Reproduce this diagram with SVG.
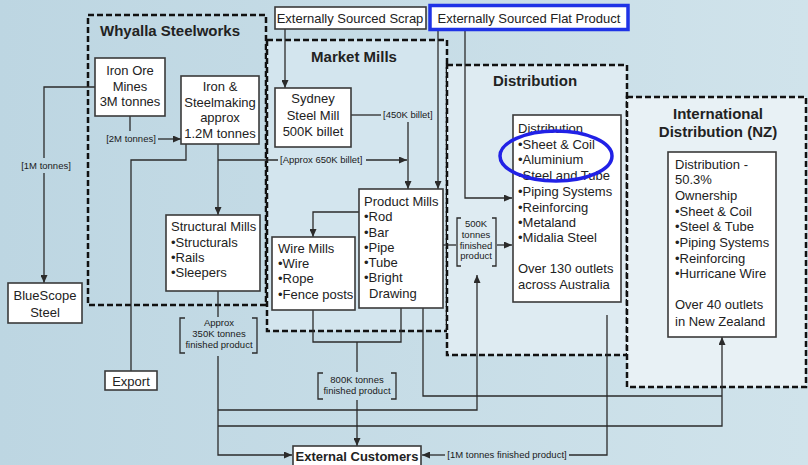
<svg xmlns="http://www.w3.org/2000/svg" width="808" height="465" viewBox="0 0 808 465">
<defs>
<linearGradient id="bg" x1="0" y1="0" x2="1" y2="0">
<stop offset="0" stop-color="#bdd6e2"/>
<stop offset="1" stop-color="#d0e3eb"/>
</linearGradient>
<marker id="ah" markerWidth="8" markerHeight="7" refX="8" refY="3.5" orient="auto" markerUnits="userSpaceOnUse">
<path d="M0,0 L8,3.5 L0,7 z" fill="#2b2b2b"/>
</marker>
<style>
.region{stroke:#111;stroke-width:2.5;stroke-dasharray:6 3}
.box{fill:#fff;stroke:#3a3a3a;stroke-width:1.6}
.t{font-family:"Liberation Sans",Arial,sans-serif;font-size:13px;fill:#222}
.c{text-anchor:middle}
.title{font-family:"Liberation Sans",Arial,sans-serif;font-size:15px;font-weight:bold;fill:#222}
.lbl{font-family:"Liberation Sans",Arial,sans-serif;font-size:9.5px;fill:#1a1a1a}
.ln{fill:none;stroke:#2b2b2b;stroke-width:1.3}
.arr{marker-end:url(#ah)}
</style>
</defs>
<rect width="808" height="465" fill="url(#bg)"/>

<g id="regions">
<rect id="whyalla" class="region" x="88" y="15" width="178" height="290" fill="none"/>
<rect id="market-mills" class="region" x="267" y="40" width="180" height="291" fill="#d3e5ee"/>
<rect id="distribution" class="region" x="447" y="65" width="180" height="290" fill="#deebf2"/>
<rect id="international" class="region" x="627" y="97" width="179" height="290" fill="#e8f1f5"/>
<text class="title" x="100" y="36">Whyalla Steelworks</text>
<text class="title c" x="354" y="62">Market Mills</text>
<text class="title c" x="535" y="86">Distribution</text>
<text class="title c" x="718" y="119">International</text>
<text class="title c" x="718" y="137">Distribution (NZ)</text>
</g>

<g id="connectors">
<path class="ln" d="M95,87 H44 V158"/>
<path class="ln arr" d="M44,173 V283"/>
<text class="lbl c" x="46" y="169">[1M tonnes]</text>
<path class="ln" d="M130,116 V131"/>
<text class="lbl c" x="131" y="142">[2M tonnes]</text>
<path class="ln arr" d="M158,139 H181"/>
<path class="ln" d="M186,144 V160 H131 V371"/>
<path class="ln arr" d="M218,144 V215"/>
<path class="ln" d="M218,160 H278"/>
<text class="lbl" x="280" y="163">[Approx 650K billet]</text>
<path class="ln arr" d="M366,160 H407" stroke="#333366"/>
<path class="ln arr" d="M285,29 V88"/>
<path class="ln" d="M351,115 H381"/>
<text class="lbl" x="383" y="118">[450K billet]</text>
<path class="ln arr" d="M408,122 V189"/>
<path class="ln arr" d="M438,30 V189"/>
<path class="ln arr" d="M465,30 V198 H512"/>
<path class="ln arr" d="M359,212 H313 V237"/>
<path class="ln" d="M443,245 H456"/>
<path class="ln" d="M461,218 H457 V266 H461 M492,218 H496 V266 H492"/>
<text class="lbl c" x="476" y="227" font-size="9">500K</text>
<text class="lbl c" x="476" y="238" font-size="9">tonnes</text>
<text class="lbl c" x="476" y="249" font-size="9">finished</text>
<text class="lbl c" x="476" y="259" font-size="9">product</text>
<path class="ln arr" d="M497,245 H512"/>
<path class="ln" d="M218,291 V317"/>
<path class="ln" d="M185,318 H180 V353 H185 M252,318 H257 V353 H252"/>
<text class="lbl c" x="219" y="326">Approx</text>
<text class="lbl c" x="219" y="337">350K tonnes</text>
<text class="lbl c" x="219" y="348">finished product</text>
<path class="ln arr" d="M218,356 V455 H292"/>
<path class="ln arr" d="M218,410 H477 V275"/>
<path class="ln arr" d="M218,426 H722 V337"/>
<path class="ln" d="M423,308 V396 H722"/>
<path class="ln" d="M313,310 V342 H401 V308"/>
<path class="ln" d="M357,342 V372"/>
<path class="ln" d="M323,373 H318 V399 H323 M391,373 H396 V399 H391"/>
<text class="lbl c" x="357" y="383">800K tonnes</text>
<text class="lbl c" x="357" y="394">finished product</text>
<path class="ln arr" d="M357,400 V446"/>
<path class="ln" d="M607,315 V455 H569"/>
<text class="lbl c" x="507" y="458">[1M tonnes finished product]</text>
<path class="ln arr" d="M445,455 H422"/>
</g>

<g id="ext-scrap"><rect class="box" x="275" y="7" width="151" height="22"/><text class="t c" x="350" y="23">Externally Sourced Scrap</text></g>
<g id="ext-flat"><rect x="430" y="5.5" width="198" height="24" fill="#fff" stroke="#1f33e6" stroke-width="3.5"/><text class="t c" x="529" y="23">Externally Sourced Flat Product</text></g>

<g id="iron-ore"><rect class="box" x="95" y="58" width="70" height="58"/>
<text class="t c" x="130" y="75">Iron Ore</text><text class="t c" x="130" y="91">Mines</text><text class="t c" x="130" y="106">3M tonnes</text></g>

<g id="iron-steelmaking"><rect class="box" x="181" y="76" width="78" height="68"/>
<text class="t c" x="220" y="91">Iron &amp;</text><text class="t c" x="220" y="107">Steelmaking</text><text class="t c" x="220" y="122">approx</text><text class="t c" x="220" y="138">1.2M tonnes</text></g>

<g id="bluescope"><rect class="box" x="8" y="283" width="74" height="40"/>
<text class="t c" x="45" y="300">BlueScope</text><text class="t c" x="45" y="317">Steel</text></g>

<g id="structural-mills"><rect class="box" x="166" y="215" width="94" height="76"/>
<text class="t" x="171" y="231">Structural Mills</text><text class="t" x="171" y="247">•Structurals</text><text class="t" x="171" y="262">•Rails</text><text class="t" x="171" y="277">•Sleepers</text></g>

<g id="export"><rect class="box" x="105" y="371" width="52" height="19"/><text class="t c" x="131" y="386">Export</text></g>

<g id="sydney"><rect class="box" x="275" y="88" width="76" height="59"/>
<text class="t c" x="313" y="103">Sydney</text><text class="t c" x="313" y="120">Steel Mill</text><text class="t c" x="313" y="136">500K billet</text></g>

<g id="product-mills"><rect class="box" x="359" y="189" width="84" height="119"/>
<text class="t" x="364" y="206">Product Mills</text><text class="t" x="364" y="221">•Rod</text><text class="t" x="364" y="237">•Bar</text><text class="t" x="364" y="252">•Pipe</text><text class="t" x="364" y="267">•Tube</text><text class="t" x="364" y="282">•Bright</text><text class="t" x="369" y="298">Drawing</text></g>

<g id="wire-mills"><rect class="box" x="272" y="237" width="83" height="73"/>
<text class="t" x="278" y="253">Wire Mills</text><text class="t" x="278" y="268">•Wire</text><text class="t" x="278" y="283">•Rope</text><text class="t" x="278" y="299">•Fence posts</text></g>

<g id="distribution-au"><rect class="box" x="513" y="115" width="108" height="187"/>
<text class="t" x="518" y="133">Distribution</text><text class="t" x="518" y="149">•Sheet &amp; Coil</text><text class="t" x="518" y="164">•Aluminium</text><text class="t" x="518" y="180">•Steel and Tube</text><text class="t" x="518" y="196">•Piping Systems</text><text class="t" x="518" y="212">•Reinforcing</text><text class="t" x="518" y="227">•Metaland</text><text class="t" x="518" y="242">•Midalia Steel</text><text class="t" x="518" y="273">Over 130 outlets</text><text class="t" x="518" y="289">across Australia</text>
<ellipse cx="556" cy="156" rx="56" ry="25" fill="none" stroke="#2121e6" stroke-width="3.5"/></g>

<g id="distribution-nz"><rect class="box" x="668" y="152" width="108" height="185"/>
<text class="t" x="675" y="169">Distribution -</text><text class="t" x="675" y="184">50.3%</text><text class="t" x="675" y="200">Ownership</text><text class="t" x="675" y="216">•Sheet &amp; Coil</text><text class="t" x="675" y="231">•Steel &amp; Tube</text><text class="t" x="675" y="247">•Piping Systems</text><text class="t" x="675" y="263">•Reinforcing</text><text class="t" x="675" y="278">•Hurricane Wire</text><text class="t" x="675" y="309">Over 40 outlets</text><text class="t" x="675" y="326">in New Zealand</text></g>

<g id="external-customers"><rect class="box" x="293" y="446" width="128" height="22"/><text class="t c" x="357" y="461" font-size="12" font-weight="bold">External Customers</text></g>
</svg>
